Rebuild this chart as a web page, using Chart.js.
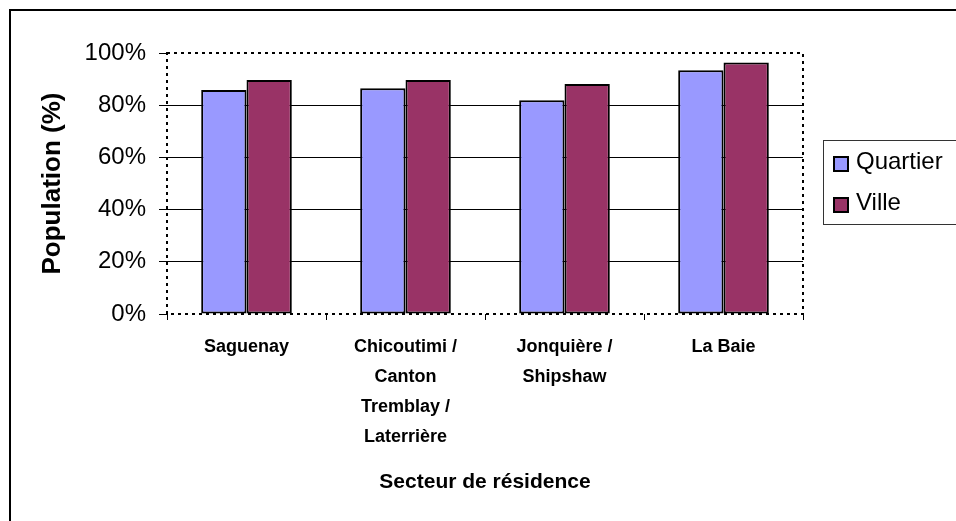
<!DOCTYPE html>
<html>
<head>
<meta charset="utf-8">
<script src="https://cdn.jsdelivr.net/npm/chart.js@4.4.0/dist/chart.umd.min.js"></script>
<style>
  html, body { margin: 0; padding: 0; background: #fff; }
  canvas { display: block; }
</style>
</head>
<body>
<canvas id="chart" width="956" height="521"></canvas>
<script>
// Data
const categories = [
  ["Saguenay"],
  ["Chicoutimi /", "Canton", "Tremblay /", "Laterrière"],
  ["Jonquière /", "Shipshaw"],
  ["La Baie"]
]
const quartier = [85.8, 86.5, 81.9, 93.4]
const ville = [89.7, 89.7, 88.1, 96.4]
const seriesNames = ["Quartier", "Ville"]
const yTicks = [0, 20, 40, 60, 80, 100]

const FONT = "'Liberation Sans', Arial, sans-serif"

// outer frame, dotted plot border and legend box
const framePlugin = {
  id: "frame",
  beforeDatasetsDraw(chart) {
    const { ctx, chartArea: a } = chart
    ctx.save()
    ctx.strokeStyle = "#000"
    ctx.lineWidth = 2
    ctx.setLineDash([3, 4])
    ctx.strokeRect(a.left, a.top, a.right - a.left, a.bottom - a.top)
    ctx.restore()
  },
  afterDraw(chart) {
    const { ctx } = chart
    ctx.save()
    // outer chart frame (only top and left are inside the picture)
    ctx.strokeStyle = "#000"
    ctx.lineWidth = 2
    ctx.beginPath()
    ctx.moveTo(10, 530)
    ctx.lineTo(10, 10)
    ctx.lineTo(960, 10)
    ctx.stroke()

    // legend
    ctx.lineWidth = 1
    ctx.strokeStyle = "#333"
    ctx.strokeRect(823.5, 140.5, 140, 84)
    ctx.font = "24px " + FONT
    ctx.textBaseline = "middle"
    chart.data.datasets.forEach((ds, i) => {
      const y = 164 + i * 41
      ctx.fillStyle = ds.backgroundColor
      ctx.fillRect(834, y - 7, 14, 14)
      ctx.strokeStyle = "#000"
      ctx.lineWidth = 2
      ctx.strokeRect(834, y - 7, 14, 14)
      ctx.fillStyle = "#000"
      ctx.fillText(ds.label, 856, y - 2)
    })
    ctx.restore()
  }
}

new Chart(document.getElementById("chart"), {
  type: "bar",
  data: {
    labels: categories,
    datasets: [
      {
        label: seriesNames[0],
        data: quartier,
        backgroundColor: "#9999FF",
        borderColor: "#000",
        borderWidth: 2,
        borderSkipped: false
      },
      {
        label: seriesNames[1],
        data: ville,
        backgroundColor: "#993366",
        borderColor: "#000",
        borderWidth: 2,
        borderSkipped: false
      }
    ]
  },
  options: {
    responsive: false,
    animation: false,
    categoryPercentage: 0.57,
    barPercentage: 1.0,
    layout: { padding: { top: 53, right: 153, left: 0, bottom: 0 } },
    plugins: {
      legend: { display: false },
      tooltip: { enabled: false }
    },
    scales: {
      x: {
        afterFit: (scale) => { scale.height = 207 },
        border: { display: false },
        grid: {
          offset: true,
          drawOnChartArea: false,
          drawTicks: true,
          tickLength: 6,
          tickColor: "#000",
          color: "#000"
        },
        ticks: {
          color: "#000",
          padding: 12,
          maxRotation: 0,
          autoSkip: false,
          font: { family: FONT, size: 18, weight: "bold", lineHeight: 1.667 }
        },
        title: {
          display: true,
          text: "Secteur de résidence",
          color: "#000",
          font: { family: FONT, size: 21, weight: "bold" },
          padding: { top: 0, bottom: 26 }
        }
      },
      y: {
        min: 0,
        max: 100,
        afterFit: (scale) => { scale.width = 167 },
        afterBuildTicks: (scale) => { scale.ticks = yTicks.map((v) => ({ value: v })) },
        border: { display: false },
        grid: {
          color: (c) => (c.tick && (c.tick.value === 0 || c.tick.value === 100)) ? "rgba(0,0,0,0)" : "#000",
          tickColor: "#000",
          tickLength: 8,
          lineWidth: 1
        },
        ticks: {
          color: "#000",
          padding: 13,
          callback: (v) => v + "%",
          font: { family: FONT, size: 24 }
        },
        title: {
          display: true,
          text: "Population (%)",
          color: "#000",
          font: { family: FONT, size: 26, weight: "bold" },
          padding: { top: 37, bottom: 0 }
        }
      }
    }
  },
  plugins: [framePlugin]
})
</script>
</body>
</html>
